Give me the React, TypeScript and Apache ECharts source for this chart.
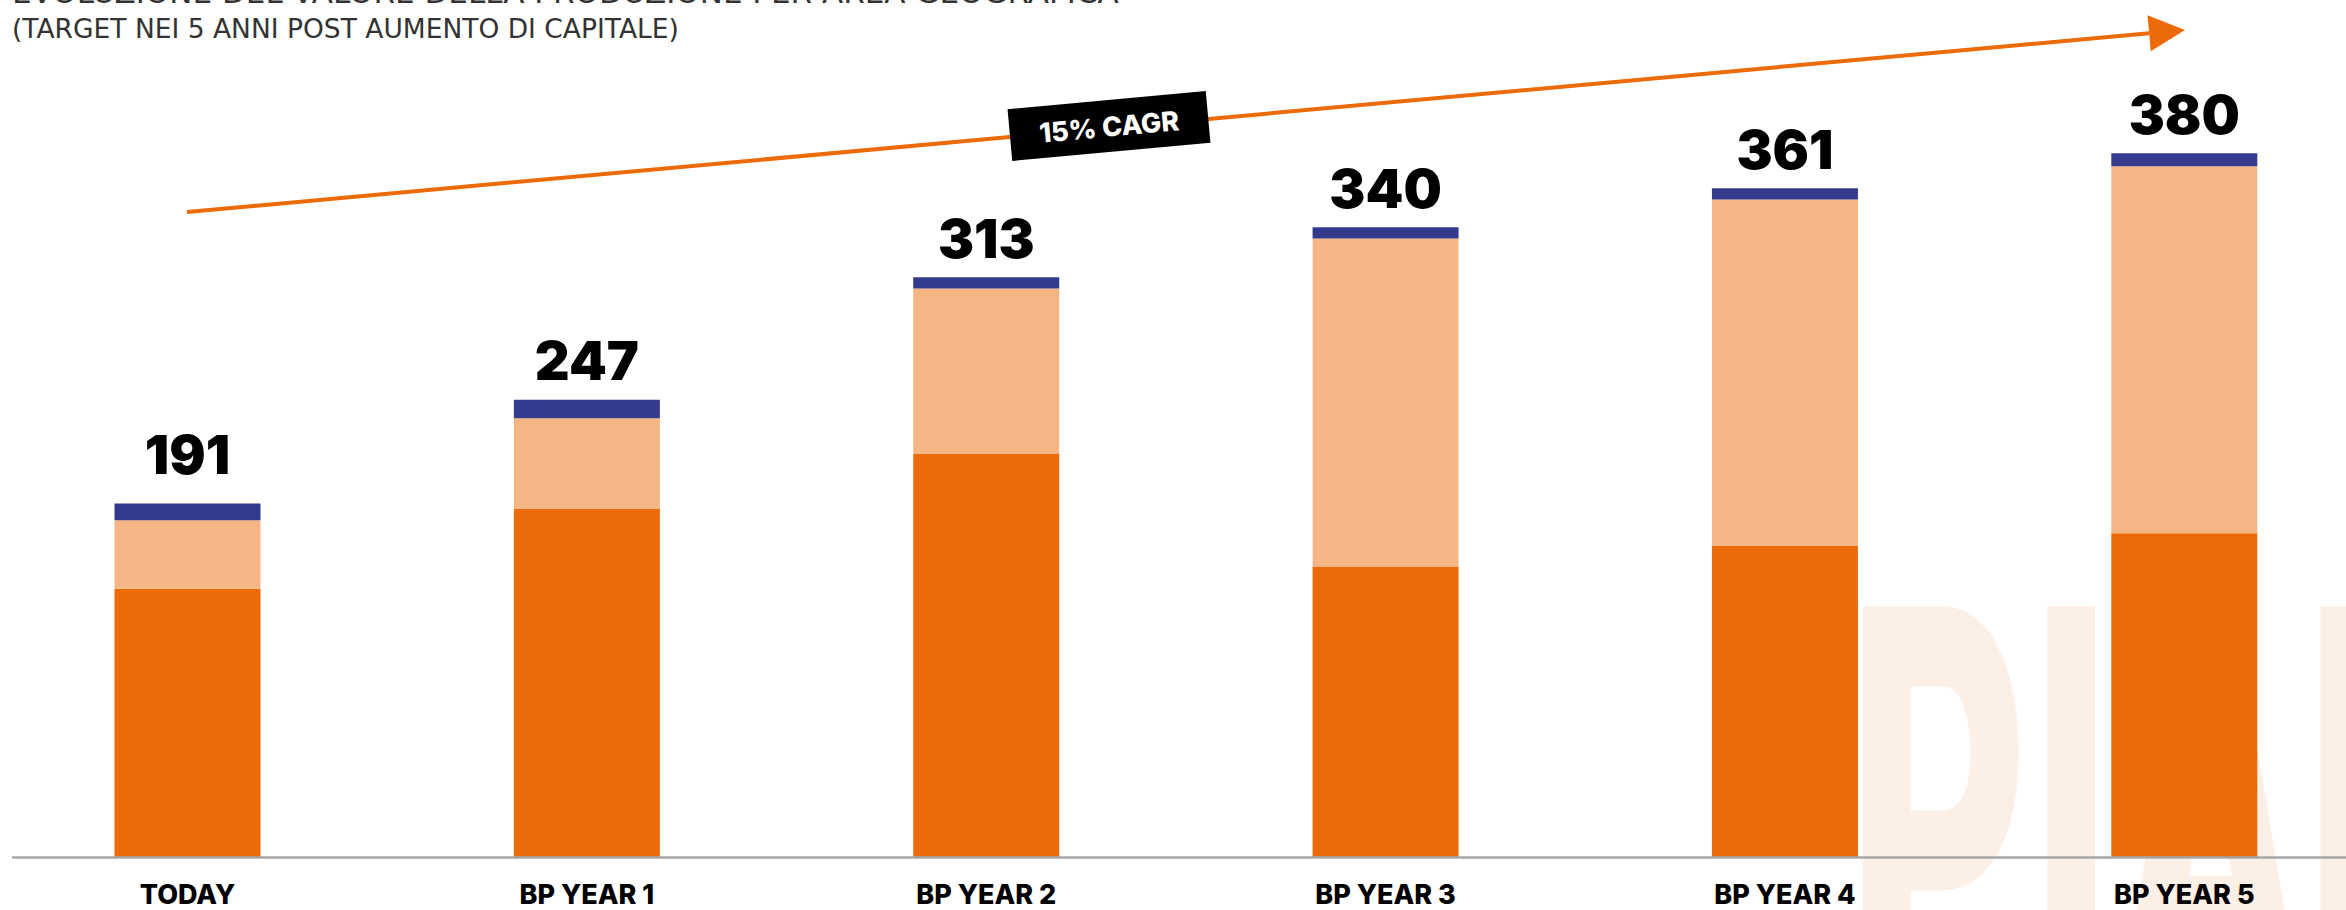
import React, { useEffect, useRef } from "react";
import * as echarts from "echarts";

const categories = ["TODAY", "BP YEAR 1", "BP YEAR 2", "BP YEAR 3", "BP YEAR 4", "BP YEAR 5"];
const area1 = [145, 188, 218, 157, 168, 175];
const area2 = [37, 49, 89, 177, 187, 198];
const area3 = [9, 10, 6, 6, 6, 7];
const totals = [191, 247, 313, 340, 361, 380];
const cagrLabel = "15% CAGR";
const titleLine1 = "EVOLUZIONE DEL VALORE DELLA PRODUZIONE PER AREA GEOGRAFICA";
const titleLine2 = "(TARGET NEI 5 ANNI POST AUMENTO DI CAPITALE)";
const watermark = "PIANO";

const ORANGE = "#EC6A07";
const PEACH = "#F5B584";
const NAVY = "#343A8C";

export default function App() {
  const ref = useRef<HTMLDivElement>(null);
  useEffect(() => {
    if (!ref.current) return;
    const chart = echarts.init(ref.current, undefined, { renderer: "svg" });
    const tip = [2185, 30];
    const start = [187, 212];
    const dx = tip[0] - start[0];
    const dy = tip[1] - start[1];
    const len = Math.sqrt(dx * dx + dy * dy);
    const ux = dx / len, uy = dy / len;
    const px = -uy, py = ux;
    const headLen = 36, headHalf = 18;
    const bx = tip[0] - ux * headLen, by = tip[1] - uy * headLen;
    const angle = Math.atan2(-dy, dx);

    chart.setOption({
      animation: false,
      backgroundColor: "#ffffff",
      title: [
        {
          text: titleLine1,
          left: 12,
          top: -24,
          padding: 0,
          textStyle: { fontSize: 31, fontWeight: 400, color: "#333", fontFamily: "DejaVu Sans" },
        },
        {
          text: titleLine2,
          left: 12,
          top: 15,
          padding: 0,
          textStyle: { fontSize: 26.5, fontWeight: 400, color: "#333", fontFamily: "DejaVu Sans" },
        },
      ],
      grid: { left: 187.5, right: 161.7, top: 123.5, bottom: 52.5, containLabel: false },
      xAxis: {
        type: "category",
        data: categories,
        boundaryGap: false,
        axisLine: { show: false },
        axisTick: { show: false },
        axisLabel: {
          fontSize: 27,
          fontWeight: 800,
          color: "#000",
          fontFamily: "Inter",
          margin: 23,
        },
      },
      yAxis: { type: "value", min: 0, max: 396, show: false, splitLine: { show: false } },
      graphic: [
        {
          type: "text",
          x: 1848,
          y: 527,
          scaleX: 0.46,
          z: 0,
          silent: true,
          style: {
            text: watermark,
            font: "900 605px Roboto",
            fill: "#FCEFE6",
            verticalAlign: "top",
            align: "left",
          },
        },
        {
          type: "line",
          z: 10,
          shape: { x1: 12, y1: 857.5, x2: 2346, y2: 857.5 },
          style: { stroke: "#A6A6A6", lineWidth: 2.5 },
        },
        {
          type: "line",
          z: 10,
          shape: { x1: start[0], y1: start[1], x2: bx, y2: by },
          style: { stroke: ORANGE, lineWidth: 4 },
        },
        {
          type: "polygon",
          z: 10,
          shape: {
            points: [
              [tip[0], tip[1]],
              [bx + px * headHalf, by + py * headHalf],
              [bx - px * headHalf, by - py * headHalf],
            ],
          },
          style: { fill: ORANGE },
        },
        {
          type: "group",
          x: 1109,
          y: 126,
          rotation: angle,
          z: 11,
          children: [
            {
              type: "rect",
              z: 11,
              shape: { x: -99.5, y: -26, width: 199, height: 52 },
              style: { fill: "#000" },
            },
            {
              type: "text",
              z: 12,
              x: 0,
              y: 1,
              style: {
                text: cagrLabel,
                font: "800 27px Inter",
                fill: "#fff",
                align: "center",
                verticalAlign: "middle",
              },
            },
          ],
        },
      ],
      series: [
        {
          name: "Area 1",
          type: "bar",
          stack: "total",
          barWidth: 146,
          data: area1,
          itemStyle: { color: ORANGE },
        },
        {
          name: "Area 2",
          type: "bar",
          stack: "total",
          barWidth: 146,
          data: area2,
          itemStyle: { color: PEACH },
        },
        {
          name: "Area 3",
          type: "bar",
          stack: "total",
          barWidth: 146,
          data: area3.map((v, i) => (i === 0 ? { value: v, label: { distance: 22 } } : v)),
          itemStyle: { color: NAVY },
          label: {
            show: true,
            position: "top",
            distance: 12,
            formatter: (p: any) => String(totals[p.dataIndex]),
            fontSize: 54,
            fontWeight: 900,
            color: "#000",
            fontFamily: "Inter",
          },
        },
      ],
    });
    return () => chart.dispose();
  }, []);
  return (
    <div
      ref={ref}
      style={{ position: "fixed", left: 0, top: 0, width: 2346, height: 910, background: "#fff" }}
    />
  );
}
